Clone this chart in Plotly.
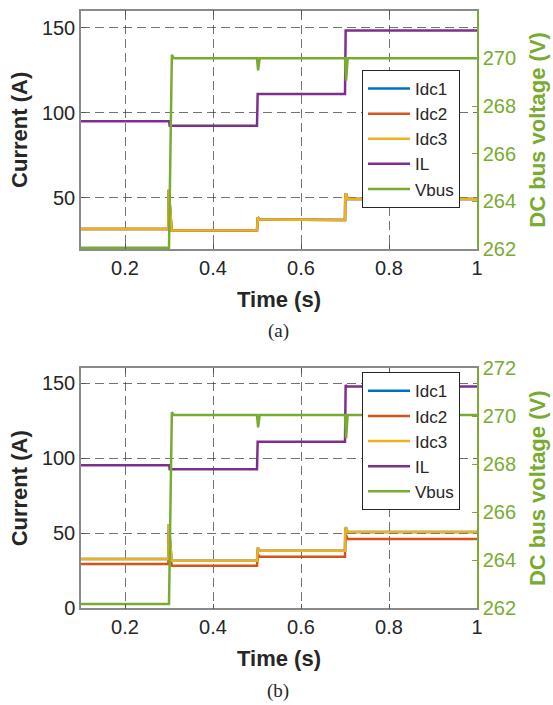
import plotly.graph_objects as go

# ---------------- data: panel (a) ----------------
a_t_idc = [0.1, 0.2985, 0.2995, 0.306, 0.5, 0.5005, 0.502, 0.506, 0.7, 0.7005, 0.702, 0.706, 1.0]
a_idc1 = [31.7, 31.7, 54.8, 30.9, 31.0, 37.0, 38.6, 37.3, 37.0, 49.0, 52.7, 49.4, 49.4]
a_idc2 = [31.7, 31.7, 54.8, 30.9, 31.0, 37.0, 38.6, 37.3, 37.0, 49.0, 52.7, 49.4, 49.4]
a_idc3 = [31.7, 31.7, 54.8, 30.9, 31.0, 37.0, 38.6, 37.3, 37.0, 49.0, 52.7, 49.4, 49.4]
a_t_il = [0.1, 0.3005, 0.3015, 0.5, 0.5015, 0.7, 0.7015, 1.0]
a_il = [95.1, 95.1, 92.4, 92.4, 111.1, 111.1, 148.3, 148.3]
a_t_v = [0.1, 0.3, 0.3065, 0.311, 0.5, 0.5025, 0.506, 0.7, 0.7025, 0.706, 1.0]
a_vbus = [262.05, 262.05, 270.15, 270.0, 270.0, 269.5, 270.0, 270.0, 269.06, 270.0, 270.0]

# ---------------- data: panel (b) ----------------
b_t_idc = [0.1, 0.2985, 0.2995, 0.306, 0.5, 0.5005, 0.502, 0.506, 0.7, 0.7005, 0.702, 0.706, 1.0]
b_idc1 = [32.9, 32.9, 56.2, 31.7, 31.7, 38.4, 40.4, 38.4, 38.4, 50.9, 54.0, 50.9, 50.9]
b_idc2 = [29.5, 29.5, 50.0, 28.4, 28.4, 34.4, 36.0, 34.4, 34.4, 46.2, 49.0, 46.2, 46.2]
b_idc3 = [32.9, 32.9, 56.2, 31.7, 31.7, 38.4, 40.4, 38.4, 38.4, 50.9, 54.0, 50.9, 50.9]
b_t_il = [0.1, 0.3005, 0.3015, 0.5, 0.5015, 0.7, 0.7015, 0.704, 1.0]
b_il = [95.3, 95.3, 92.7, 92.7, 111.1, 111.1, 148.9, 147.8, 147.8]
b_t_v = [0.1, 0.3, 0.3065, 0.311, 0.5, 0.5025, 0.506, 0.7, 0.7025, 0.706, 1.0]
b_vbus = [262.18, 262.18, 270.17, 270.05, 270.05, 269.54, 270.05, 270.05, 269.08, 270.05, 270.05]

names = ["Idc1", "Idc2", "Idc3", "IL", "Vbus"]
colors = ["#0072BD", "#D95319", "#EDB120", "#7E2F8E", "#77AC30"]
x_ticks = [0.2, 0.4, 0.6, 0.8, 1.0]
x_ticktext = ["0.2", "0.4", "0.6", "0.8", "1"]
y_ticks = [0, 50, 100, 150]
v_ticks = [262, 264, 266, 268, 270, 272]

GREEN = "#77AC30"
FONT = "Liberation Sans, Arial, sans-serif"
LW = 2.5

fig = go.Figure()

def add_panel(xa, ya, ya2, leg, t_idc, i1, i2, i3, t_il, il, t_v, vb):
    series = [(t_idc, i1, ya), (t_idc, i2, ya), (t_idc, i3, ya), (t_il, il, ya), (t_v, vb, ya2)]
    for k, (tt, vv, yy) in enumerate(series):
        fig.add_trace(go.Scatter(x=tt, y=vv, mode="lines", name=names[k],
                                 line=dict(color=colors[k], width=LW), cliponaxis=False,
                                 xaxis=xa, yaxis=yy, legend=leg, showlegend=True))

add_panel("x", "y", "y2", "legend", a_t_idc, a_idc1, a_idc2, a_idc3, a_t_il, a_il, a_t_v, a_vbus)
add_panel("x2", "y3", "y4", "legend2", b_t_idc, b_idc1, b_idc2, b_idc3, b_t_il, b_il, b_t_v, b_vbus)

xdom = [81 / 553, 477 / 553]
dom_a = [1 - 249 / 705, 1 - 10.7 / 705]
dom_b = [1 - 608.3 / 705, 1 - 368.3 / 705]

grid = dict(showgrid=True, gridcolor="rgba(40,40,40,0.65)", griddash="9px,5px", gridwidth=1)
tickfont = dict(family=FONT, size=20, color="#262626")
titlefont = dict(family=FONT, size=22, color="#262626", weight="bold")

def xaxis(anchor, dom):
    return dict(domain=xdom, anchor=anchor, range=[0.1, 1.0], tickvals=x_ticks, ticktext=x_ticktext,
                ticks="inside", ticklen=5, tickcolor="#555", showline=True, linecolor="#8a8a8a",
                linewidth=1.5, mirror="ticks", tickfont=tickfont, zeroline=False, automargin=False,
                title=dict(text="Time (s)", font=titlefont, standoff=14), **grid)

def yaxis(anchor, dom, rng):
    return dict(domain=dom, anchor=anchor, range=rng, tickvals=y_ticks, ticks="inside", ticklen=5,
                tickcolor="#555", showline=True, linecolor="#8a8a8a", linewidth=1.5, zeroline=False,
                automargin=False,
                tickfont=tickfont, title=dict(text="Current (A)", font=titlefont, standoff=8), **grid)

def vaxis(anchor, over):
    return dict(overlaying=over, anchor=anchor, side="right", range=[262, 272], tickvals=v_ticks,
                ticks="inside", ticklen=5, tickcolor=GREEN, showline=True, linecolor=GREEN,
                linewidth=1.5, showgrid=False, zeroline=False, automargin=False,
                tickfont=dict(family=FONT, size=20, color=GREEN),
                title=dict(text="DC bus voltage (V)", font=dict(family=FONT, size=22, color=GREEN, weight="bold"), standoff=14))

legend_common = dict(xanchor="left", yanchor="top", bgcolor="white", bordercolor="#262626", borderwidth=1,
                     font=dict(family=FONT, size=17, color="#262626"), itemwidth=42, tracegroupgap=0)

cap_font = dict(family="Liberation Serif, Times New Roman, serif", size=19, color="#262626")

fig.update_layout(
    width=553, height=705, margin=dict(l=0, r=0, t=0, b=0, autoexpand=False),
    paper_bgcolor="white", plot_bgcolor="white",
    xaxis=xaxis("y", dom_a),
    yaxis=yaxis("x", dom_a, [20, 160]),
    yaxis2=vaxis("x", "y"),
    xaxis2=xaxis("y3", dom_b),
    yaxis3=yaxis("x2", dom_b, [0, 160]),
    yaxis4=vaxis("x2", "y3"),
    legend=dict(x=362 / 553, y=1 - 70 / 705, **legend_common),
    legend2=dict(x=362 / 553, y=1 - 372.3 / 705, **legend_common),
    annotations=[
        dict(text="(a)", x=278 / 553, y=1 - 331 / 705, xref="paper", yref="paper", showarrow=False,
             xanchor="center", yanchor="middle", font=cap_font),
        dict(text="(b)", x=278 / 553, y=1 - 691 / 705, xref="paper", yref="paper", showarrow=False,
             xanchor="center", yanchor="middle", font=cap_font),
    ],
)

fig.write_html("out.html")
